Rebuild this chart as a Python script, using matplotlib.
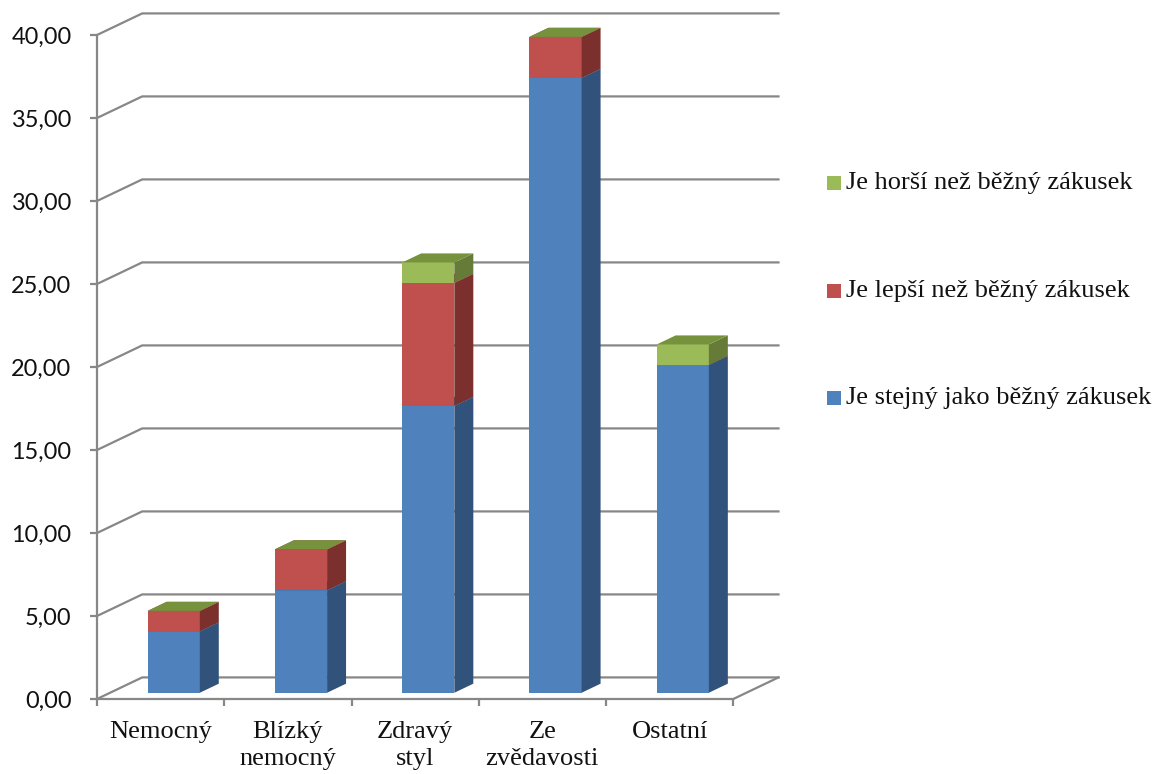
import matplotlib
matplotlib.use("Agg")
import matplotlib.pyplot as plt
from matplotlib.patches import Polygon, Rectangle
from matplotlib.lines import Line2D

# --- data (percent of respondents) ---
categories = ["Nemocný", "Blízký\nnemocný", "Zdravý\nstyl", "Ze\nzvědavosti", "Ostatní"]
series_names = ["Je stejný jako běžný zákusek", "Je lepší než běžný zákusek", "Je horší než běžný zákusek"]
same = [3.70, 6.17, 17.28, 37.04, 19.75]
better = [1.23, 2.47, 7.41, 2.47, 0.00]
worse = [0.00, 0.00, 1.23, 0.00, 1.23]
y_ticks = [0, 5, 10, 15, 20, 25, 30, 35, 40]
y_tick_labels = ["0,00", "5,00", "10,00", "15,00", "20,00", "25,00", "30,00", "35,00", "40,00"]

# face colours: (front, side, top)
face_colors = [
    ("#4F81BD", "#31527A", "#3D6699"),
    ("#C0504D", "#7B302E", "#9A3C3A"),
    ("#9BBB59", "#667B38", "#76923C"),
]

W, H, DPI = 1165, 774, 100
fig = plt.figure(figsize=(W / DPI, H / DPI), dpi=DPI)

# front plane of the chart in pixels
x0_px, x1_px = 97, 733.3
y0_px, y40_px = 699, 35
ax = fig.add_axes([x0_px / W, 1 - y0_px / H, (x1_px - x0_px) / W, (y0_px - y40_px) / H])
n = len(categories)
ax.set_xlim(0, n)
ax.set_ylim(0, 40)

# oblique depth direction (data units)
DX, DY = 0.355, 1.30
grid_col = "#878787"
lw = 1.6

for side in ("top", "right"):
    ax.spines[side].set_visible(False)
for side in ("left", "bottom"):
    ax.spines[side].set_color(grid_col)
    ax.spines[side].set_linewidth(lw)
ax.spines["left"].set_bounds(0, 40)
ax.spines["bottom"].set_bounds(0, n)

ax.set_yticks(y_ticks)
ax.set_yticklabels(y_tick_labels, fontfamily="Lato", fontsize=16.9, color="#111111")
ax.tick_params(axis="y", direction="out", length=5, width=lw, color=grid_col, pad=13.3)

ax.set_xticks(range(n + 1))
ax.set_xticklabels([""] * (n + 1))
ax.tick_params(axis="x", which="major", direction="out", length=5, width=lw, color=grid_col)
ax.set_xticks([i + 0.5 for i in range(n)], minor=True)
ax.set_xticklabels(categories, minor=True, fontfamily="Liberation Serif", fontsize=19,
                   color="#111111", linespacing=1.33)
ax.tick_params(axis="x", which="minor", length=0, pad=15.5)
ax.patch.set_visible(False)

# back wall grid lines + floor
for v in y_ticks:
    ax.add_line(Line2D([0, DX, n + DX], [v, v + DY, v + DY], color=grid_col, lw=lw,
                       clip_on=False, zorder=1, solid_joinstyle="miter"))
ax.add_line(Line2D([n, n + DX], [0, DY], color=grid_col, lw=lw, clip_on=False, zorder=1))

# 3D stacked columns
bar_w = 0.41
d_front, d_back = 0.29, 0.71
ox, oy = d_front * DX, d_front * DY
ddx, ddy = (d_back - d_front) * DX, (d_back - d_front) * DY

stacks = [same, better, worse]
for i in range(n):
    xl = i + 0.5 - bar_w / 2 + ox
    xr = xl + bar_w
    base = oy
    for vals, (fc, sc, tc) in zip(stacks, face_colors):
        top = base + vals[i]
        # front
        ax.add_patch(Polygon([(xl, base), (xr, base), (xr, top), (xl, top)], closed=True,
                             facecolor=fc, edgecolor="none", clip_on=False, zorder=3))
        # right side
        ax.add_patch(Polygon([(xr, base), (xr + ddx, base + ddy), (xr + ddx, top + ddy), (xr, top)],
                             closed=True, facecolor=sc, edgecolor="none", clip_on=False, zorder=3))
        # top
        ax.add_patch(Polygon([(xl, top), (xr, top), (xr + ddx, top + ddy), (xl + ddx, top + ddy)],
                             closed=True, facecolor=tc, edgecolor="none", clip_on=False, zorder=3))
        base = top

# legend on the right, top entry first
leg_rows = [(series_names[2], face_colors[2][0], 183),
            (series_names[1], face_colors[1][0], 291),
            (series_names[0], face_colors[0][0], 398)]
for label, col, yc in leg_rows:
    fig.patches.append(Rectangle((827 / W, 1 - (yc + 7) / H), 14 / W, 14 / H,
                                 transform=fig.transFigure, facecolor=col, edgecolor="none"))
    fig.text(846 / W, 1 - yc / H, label, fontfamily="Liberation Serif", fontsize=19,
             color="#111111", va="center", ha="left")

fig.savefig("out.png", dpi=DPI)
